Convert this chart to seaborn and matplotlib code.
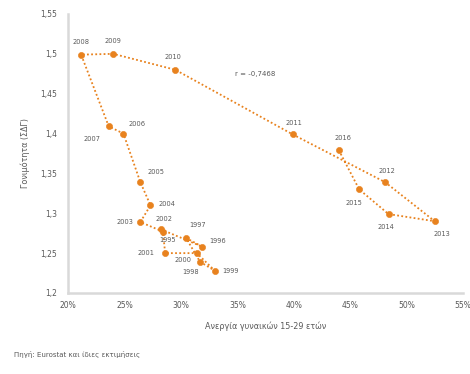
import numpy as np
import pandas as pd
import matplotlib
matplotlib.use('Agg')
import matplotlib.pyplot as plt
import seaborn as sns

# Data: youth (15-29) female unemployment vs fertility rate
years = [1995, 1996, 1997, 1998, 1999, 2000, 2001, 2002, 2003, 2004, 2005,
         2006, 2007, 2008, 2009, 2010, 2011, 2012, 2013, 2014, 2015, 2016]
unemployment = [28.2, 31.9, 30.45, 31.7, 33.0, 31.4, 28.6, 28.4, 26.4, 27.3, 26.4,
                24.9, 23.6, 21.15, 24.0, 29.5, 39.9, 48.1, 52.5, 48.4, 45.8, 44.0]
fertility = [1.28, 1.258, 1.269, 1.239, 1.228, 1.25, 1.25, 1.277, 1.289, 1.31, 1.339,
             1.40, 1.409, 1.499, 1.50, 1.48, 1.399, 1.339, 1.29, 1.299, 1.33, 1.379]

# label offsets (points) for each year
label_dx = [5, 11, 8, -7, 11, -10, -14, 1, -11, 12, 11, 10, -12, 0, 0, -2, 1, 1, 5, -2, -4, 3]
label_dy = [-8, 4, 9, -7, 0, -5, 0, 9, 0, 1, 7, 7, -9, 9, 9, 9, 8, 8, -9, -9, -10, 9]

df = pd.DataFrame({'year': years, 'x': unemployment, 'y': fertility})

orange = '#E8821E'
grey = '#595959'

sns.set_style('white')
plt.rcParams['font.family'] = ['DejaVu Sans']

fig = plt.figure(figsize=(4.7, 3.74), dpi=100)
ax = fig.add_axes([0.145, 0.2166, 0.84, 0.746])

sns.lineplot(data=df, x='x', y='y', sort=False, ax=ax, color=orange,
             linestyle=(0, (1, 1.3)), linewidth=1.3, estimator=None)
sns.scatterplot(data=df, x='x', y='y', ax=ax, color=orange, s=20, marker='o',
                edgecolor=orange, linewidth=0.4, zorder=3)

for yr, x, y, dx, dy in zip(years, unemployment, fertility, label_dx, label_dy):
    ax.annotate(str(yr), (x, y), xytext=(dx, dy), textcoords='offset points',
                ha='center', va='center', fontsize=4.8, color=grey)

ax.text(0.475, 0.785, 'r = -0,7468', transform=ax.transAxes, fontsize=5,
        color=grey, ha='center', va='center')

ax.set_xlim(20, 55)
ax.set_ylim(1.2, 1.55)
ax.set_xticks(np.arange(20, 56, 5))
ax.set_xticklabels([f'{v}%' for v in range(20, 56, 5)])
yt = np.round(np.arange(1.2, 1.551, 0.05), 2)
ax.set_yticks(yt)
ax.set_yticklabels([f'{v:g}'.replace('.', ',') for v in yt])

ax.tick_params(axis='both', labelsize=5.5, colors=grey, length=3, width=0.6)
ax.tick_params(axis='x', direction='in', pad=6, color='#BFBFBF')
ax.tick_params(axis='y', direction='out', pad=5, color='#BFBFBF')
for side in ['top', 'right']:
    ax.spines[side].set_visible(False)
for side in ['left', 'bottom']:
    ax.spines[side].set_color('#D9D9D9')
    ax.spines[side].set_linewidth(1.8)

ax.set_xlabel('Ανεργία γυναικών 15-29 ετών', fontsize=5.8, color=grey, labelpad=8)
ax.set_ylabel('Γονιμότητα (ΣΔΓ)', fontsize=5.8, color=grey, labelpad=7)

fig.text(0.03, 0.045, 'Πηγή: Eurostat και ίδιες εκτιμήσεις', fontsize=5, color=grey)

fig.savefig('out.png', dpi=100)
